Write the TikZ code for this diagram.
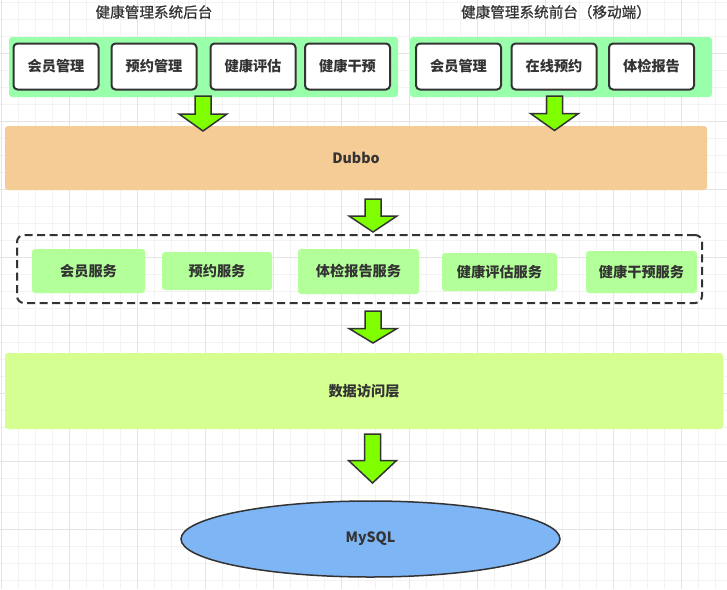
\documentclass[tikz,border=0pt]{standalone}
\usepackage{fontspec}
\newfontfamily\cjk{Noto Sans CJK SC}
\newfontfamily\cjktitle[FakeBold=0.8]{Noto Sans CJK SC}
\usetikzlibrary{shapes.geometric}
\definecolor{gridminor}{RGB}{243,243,243}
\definecolor{gridmajor}{RGB}{228,228,228}
\definecolor{contgreen}{RGB}{153,255,170}
\definecolor{svcgreen}{RGB}{179,255,153}
\definecolor{datagreen}{RGB}{213,255,145}
\definecolor{dubbocol}{RGB}{245,203,150}
\definecolor{arrowgreen}{RGB}{128,255,0}
\definecolor{dbblue}{RGB}{126,181,245}
\definecolor{inkgray}{RGB}{51,51,51}
\tikzset{
  txt/.style={font=\cjk\bfseries\fontsize{14.2}{16}\selectfont, text=inkgray},
  titletxt/.style={font=\cjktitle\fontsize{14.6}{16}\selectfont, text=inkgray, inner sep=0pt},
  container/.style={fill=contgreen, rounded corners=3pt, inner sep=0pt},
  whitebox/.style={txt, fill=white, draw=inkgray, line width=2pt, rounded corners=4pt,
    minimum width=85pt, minimum height=46pt, inner sep=0pt},
  svcbox/.style={txt, fill=svcgreen, rounded corners=3pt, inner sep=0pt},
  layerbox/.style={txt, rounded corners=3pt, inner sep=0pt},
  dashbox/.style={draw=inkgray, line width=2pt, dash pattern=on 8pt off 4.5pt,
    rounded corners=7pt, inner sep=0pt},
  garrowstyle/.style={fill=arrowgreen, draw=inkgray, line width=1.5pt, line join=miter},
  dbnode/.style={txt, ellipse, fill=dbblue, draw=inkgray, line width=1.5pt, inner sep=0pt}
}
% block arrow: x, top, head start, tip
\newcommand{\garrow}[4]{%
  \draw[garrowstyle] (#1-8,#2) -- (#1+8,#2) -- (#1+8,#3) -- (#1+24,#3) -- (#1,#4)
    -- (#1-24,#3) -- (#1-8,#3) -- cycle;}
\begin{document}
\begin{tikzpicture}[x=1pt,y=-1pt]
\useasboundingbox (0,0) rectangle (727,589);
\fill[white] (0,0) rectangle (727,589);
% grid
\foreach \k in {0,...,42} {\draw[gridminor, line width=1pt] (1.5+17*\k,0) -- (1.5+17*\k,589);}
\foreach \k in {0,...,34} {\draw[gridminor, line width=1pt] (0,2+17*\k) -- (727,2+17*\k);}
\foreach \m in {0,...,10} {\draw[gridmajor, line width=1pt] (1.5+68*\m,0) -- (1.5+68*\m,589);}
\foreach \m in {0,...,7} {\draw[gridmajor, line width=1pt] (0,53+68*\m) -- (727,53+68*\m);}

% titles
\node[titletxt] (t1) at (154,12) {健康管理系统后台};
\node[titletxt] (t2) at (556,12) {健康管理系统前台（移动端）};

% containers
\node[container, minimum width=389pt, minimum height=60pt] (c1) at (203.5,67) {};
\node[container, minimum width=302pt, minimum height=60pt] (c2) at (561,67) {};

% top boxes
\node[whitebox] (b1) at (56,66.5) {会员管理};
\node[whitebox] (b2) at (154,66.5) {预约管理};
\node[whitebox] (b3) at (253,66.5) {健康评估};
\node[whitebox] (b4) at (347.5,66.5) {健康干预};
\node[whitebox] (f1) at (458.5,66.5) {会员管理};
\node[whitebox] (f2) at (554,66.5) {在线预约};
\node[whitebox] (f3) at (651.5,66.5) {体检报告};

% Dubbo
\node[layerbox, fill=dubbocol, minimum width=702pt, minimum height=64pt] (dubbo) at (356,158) {Dubbo};

% services
\node[dashbox, minimum width=685pt, minimum height=68pt] (svc) at (359.5,269) {};
\node[svcbox, minimum width=113pt, minimum height=44pt] (s1) at (88.5,271) {会员服务};
\node[svcbox, minimum width=110pt, minimum height=38pt] (s2) at (217,271) {预约服务};
\node[svcbox, minimum width=121pt, minimum height=45pt] (s3) at (358.5,271.5) {体检报告服务};
\node[svcbox, minimum width=115pt, minimum height=38pt] (s4) at (499.5,272) {健康评估服务};
\node[svcbox, minimum width=111pt, minimum height=42pt] (s5) at (641.5,272) {健康干预服务};

% data access layer
\node[layerbox, fill=datagreen, minimum width=718pt, minimum height=76pt] (dal) at (364,391) {数据访问层};

% MySQL
\node[dbnode, minimum width=379pt, minimum height=76pt] (db) at (370.5,539) {MySQL};

% arrows
\garrow{203}{96}{114}{131}
\garrow{554.5}{96}{113.5}{130.5}
\garrow{373}{199}{216}{232}
\garrow{373}{311}{328.5}{343}
\garrow{372.5}{434}{460.5}{483}
\end{tikzpicture}
\end{document}
